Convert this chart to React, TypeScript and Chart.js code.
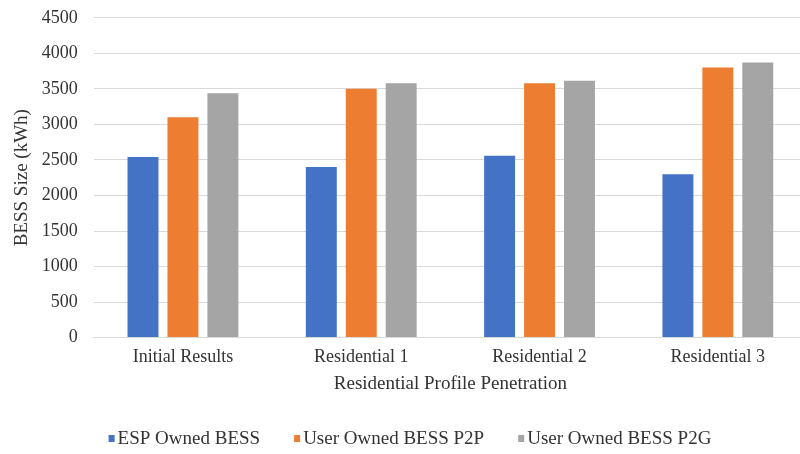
import React, { useEffect, useRef } from "react";
import { Chart, registerables } from "chart.js";

Chart.register(...registerables);

const categories = ["Initial Results", "Residential 1", "Residential 2", "Residential 3"];
const espOwned = [2540, 2400, 2560, 2300];
const userP2P = [3100, 3500, 3580, 3800];
const userP2G = [3440, 3580, 3615, 3870];
const seriesNames = ["ESP Owned BESS", "User Owned BESS P2P", "User Owned BESS P2G"];
const seriesColors = ["#4472C4", "#ED7D31", "#A5A5A5"];

const FONT = "'Liberation Serif', 'Times New Roman', serif";
const TEXT = "#333333";

const legendPlugin = {
  id: "customLegend",
  afterDraw(chart: any) {
    const ctx = chart.ctx;
    ctx.save();
    ctx.font = `19px ${FONT}`;
    ctx.textBaseline = "middle";
    const box = 6;
    const boxGap = 3;
    const itemGap = 34;
    const items = chart.data.datasets.map((d: any) => ({
      label: d.label,
      color: d.backgroundColor,
      w: ctx.measureText(d.label).width,
    }));
    const total =
      items.reduce((s: number, it: any) => s + box + boxGap + it.w, 0) + itemGap * (items.length - 1);
    let x = 410 - total / 2;
    const y = 438;
    for (const it of items) {
      ctx.fillStyle = it.color;
      ctx.fillRect(x, y - 3, box, 7);
      x += box + boxGap;
      ctx.fillStyle = TEXT;
      ctx.fillText(it.label, x, y + 1);
      x += it.w + itemGap;
    }
    ctx.restore();
  },
};

export default function App() {
  const ref = useRef<HTMLCanvasElement>(null);
  useEffect(() => {
    const chart = new Chart(ref.current!, {
      type: "bar",
      data: {
        labels: categories,
        datasets: [espOwned, userP2P, userP2G].map((data, i) => ({
          label: seriesNames[i],
          data,
          backgroundColor: seriesColors[i],
          categoryPercentage: 0.672,
          barPercentage: 0.775,
        })),
      },
      options: {
        animation: false,
        responsive: false,
        layout: { padding: { top: 0, left: 11, right: 13, bottom: 32 } },
        plugins: { legend: { display: false }, tooltip: { enabled: false } },
        scales: {
          x: {
            grid: { display: false, drawTicks: false },
            border: { color: "#d9d9d9" },
            ticks: { color: TEXT, font: { family: FONT, size: 18 }, padding: 9 },
            title: {
              display: true,
              text: "Residential Profile Penetration",
              color: TEXT,
              font: { family: FONT, size: 19 },
              padding: { top: -5, bottom: 27 },
            },
          },
          y: {
            min: 0,
            max: 4500,
            ticks: {
              stepSize: 500,
              color: TEXT,
              font: { family: FONT, size: 18 },
              padding: 7,
              callback: (v: any) => String(v),
            },
            grid: { color: "#d9d9d9", drawTicks: true, tickLength: 9, tickColor: "rgba(0,0,0,0)" },
            border: { display: false },
            title: {
              display: true,
              text: "BESS Size (kWh)",
              color: TEXT,
              font: { family: FONT, size: 19 },
              padding: { top: 0, bottom: 1 },
            },
          },
        },
      },
      plugins: [legendPlugin],
    });
    return () => chart.destroy();
  }, []);
  return (
    <div
      style={{
        position: "fixed",
        left: 0,
        top: 0,
        width: 800,
        height: 454,
        overflow: "hidden",
        background: "#fff",
      }}
    >
      <canvas ref={ref} width={820} height={454} />
    </div>
  );
}
